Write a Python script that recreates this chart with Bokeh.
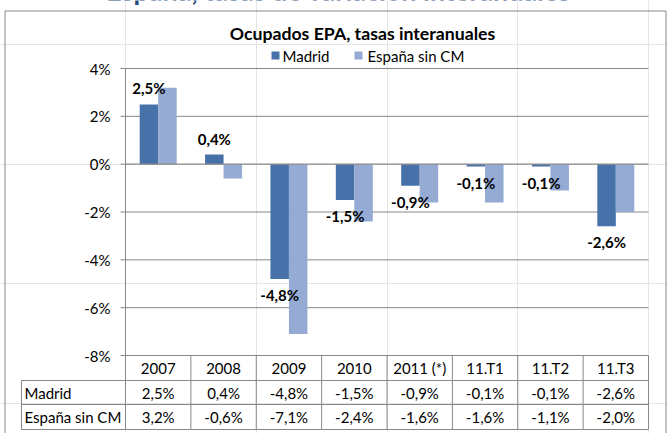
from bokeh.plotting import figure
from bokeh.models import Range1d
from bokeh.core.properties import value
from bokeh.embed import file_html
from bokeh.resources import INLINE

# ---------------- data ----------------
categories = ["2007", "2008", "2009", "2010", "2011 (*)", "11.T1", "11.T2", "11.T3"]
madrid = [2.5, 0.4, -4.8, -1.5, -0.9, -0.1, -0.1, -2.6]
espana = [3.2, -0.6, -7.1, -2.4, -1.6, -1.6, -1.1, -2.0]
series_names = ["Madrid", "España sin CM"]
y_ticks = [4, 2, 0, -2, -4, -6, -8]
chart_title = "Ocupados EPA, tasas interanuales"
page_heading = "España, tasas de variación interanuales"

# ---------------- style ----------------
C_MAD = "#4672A9"
C_ESP = "#95ABD4"
C_GRID = "#888888"
C_TXT = "#000000"
FONT = value("Lato")


def pct(v):
    return f"{v:.1f}%".replace(".", ",")


def tick_label(v):
    return f"{v:d}%"


# ---------------- layout (pixels) ----------------
W, H = 667, 433
PLOT_L, PLOT_R = 125, 648
PLOT_T, PLOT_B = 68, 355
Y_MAX, Y_MIN = max(y_ticks), min(y_ticks)
n = len(categories)
XS = (PLOT_R - PLOT_L) / n              # px per category
YS = (PLOT_B - PLOT_T) / (Y_MAX - Y_MIN)  # px per percentage point


def X(px):
    return (px - PLOT_L) / XS


def Y(py):
    return Y_MAX - (py - PLOT_T) / YS


p = figure(width=W, height=H,
           x_range=Range1d(X(0), X(W)), y_range=Range1d(Y(H), Y(0)),
           output_backend="svg", toolbar_location=None,
           x_axis_location=None, y_axis_location=None,
           min_border=0, outline_line_color=None,
           background_fill_color="white", border_fill_color="white")

# outer box
p.multi_line(xs=[[X(4.5), X(4.5)], [X(4.5), X(665.5)], [X(665.5), X(665.5)]],
             ys=[[Y(10.5), Y(H + 5)], [Y(10.5), Y(10.5)], [Y(10.5), Y(H + 5)]],
             line_color=C_GRID, line_width=1)

# page heading (cut by the top edge, as in the source)
p.text(x=[X(338)], y=[Y(-10)], text=[page_heading], text_font=FONT,
       text_font_style="bold", text_font_size="27px", text_color="#1F497D",
       text_align="center", text_baseline="middle")

# chart title
p.text(x=[X(362)], y=[Y(33)], text=[chart_title], text_font=FONT,
       text_font_style="bold", text_font_size="17.7px", text_color=C_TXT,
       text_align="center", text_baseline="middle")

# legend
p.scatter(x=[X(275), X(358)], y=[Y(55), Y(55)], marker="square", size=8,
          fill_color=[C_MAD, C_ESP], line_color=None)
p.text(x=[X(282), X(367)], y=[Y(55), Y(55)], text=series_names, text_font=FONT,
       text_font_size="15px", text_color=C_TXT, text_align="left",
       text_baseline="middle")

# gridlines (behind bars)
grid_vals = [v for v in y_ticks if v != 0]
p.segment(x0=[0] * len(grid_vals), x1=[n] * len(grid_vals), y0=grid_vals, y1=grid_vals,
          line_color=C_GRID, line_width=1)

# bars
BW = 0.283
xm = [i + 0.5 - BW / 2 for i in range(n)]
xe = [i + 0.5 + BW / 2 for i in range(n)]
p.vbar(x=xm, width=BW, top=madrid, bottom=0, fill_color=C_MAD, line_color=None)
p.vbar(x=xe, width=BW, top=espana, bottom=0, fill_color=C_ESP, line_color=None)

# zero line on top
p.segment(x0=[0], x1=[n], y0=[0], y1=[0], line_color=C_GRID, line_width=1.2)

# y axis line (continues as table border), tick marks and labels
p.segment(x0=[0], x1=[0], y0=[Y_MAX], y1=[Y(429)], line_color=C_GRID, line_width=1)
p.segment(x0=[X(120)] * len(y_ticks), x1=[0] * len(y_ticks), y0=y_ticks, y1=y_ticks,
          line_color=C_GRID, line_width=1)
p.text(x=[X(110)] * len(y_ticks), y=y_ticks, text=[tick_label(v) for v in y_ticks],
       text_font=FONT, text_font_size="15px", text_color=C_TXT,
       text_align="right", text_baseline="middle")

# data table below the plot
row_lines = [Y(380), Y(404), Y(429)]
p.segment(x0=[X(21)] * 3, x1=[n] * 3, y0=row_lines, y1=row_lines,
          line_color=C_GRID, line_width=1)
edges = list(range(1, n + 1))
p.segment(x0=edges, x1=edges, y0=[Y_MIN] * n, y1=[Y(429)] * n,
          line_color=C_GRID, line_width=1)
p.segment(x0=[X(21)], x1=[X(21)], y0=[Y(380)], y1=[Y(429)],
          line_color=C_GRID, line_width=1)

centers = [i + 0.5 for i in range(n)]
p.text(x=centers, y=[Y(367.5)] * n, text=categories, text_font=FONT,
       text_font_size="15px", text_color=C_TXT, text_align="center", text_baseline="middle")
p.text(x=centers, y=[Y(392)] * n, text=[pct(v) for v in madrid], text_font=FONT,
       text_font_size="15px", text_color=C_TXT, text_align="center", text_baseline="middle")
p.text(x=centers, y=[Y(416.5)] * n, text=[pct(v) for v in espana], text_font=FONT,
       text_font_size="15px", text_color=C_TXT, text_align="center", text_baseline="middle")
p.text(x=[X(24)] * 2, y=[Y(392), Y(416.5)], text=series_names, text_font=FONT,
       text_font_size="15px", text_color=C_TXT, text_align="left", text_baseline="middle")

# data labels (Madrid)
p.text(x=xm, y=madrid, text=[pct(v) for v in madrid],
       y_offset=[-16 if v >= 0 else 16 for v in madrid],
       text_font=FONT, text_font_style="bold", text_font_size="15px", text_color=C_TXT,
       text_align="center", text_baseline="middle")

open("out.html", "w").write(file_html(p, INLINE))
